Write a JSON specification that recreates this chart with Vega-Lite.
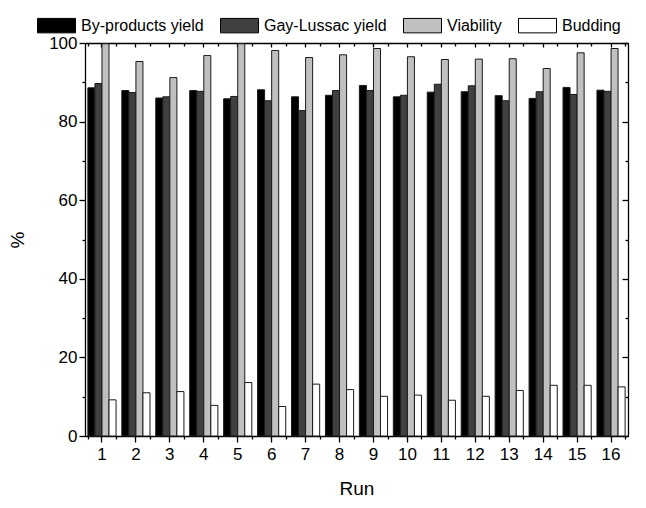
{
  "$schema": "https://vega.github.io/schema/vega-lite/v6.json",
  "width": 543,
  "height": 393,
  "autosize": {"type": "none"},
  "padding": {"left": 85, "top": 43, "right": 18, "bottom": 72},
  "config": {
    "view": {"stroke": null},
    "font": "Liberation Sans",
    "axis": {
      "grid": false,
      "domainColor": "#000",
      "domainWidth": 1.3,
      "tickColor": "#000",
      "tickWidth": 1.3,
      "labelColor": "#000",
      "titleColor": "#000",
      "labelFont": "Liberation Sans",
      "titleFont": "Liberation Sans",
      "labelFontSize": 17,
      "titleFontSize": 19,
      "titleFontWeight": "normal"
    }
  },
  "data": {
    "values": [
      {"run": 1, "By-products yield": 88.6, "Gay-Lussac yield": 89.7, "Viability": 99.8, "Budding": 9.2},
      {"run": 2, "By-products yield": 87.9, "Gay-Lussac yield": 87.4, "Viability": 95.3, "Budding": 11.0},
      {"run": 3, "By-products yield": 86.0, "Gay-Lussac yield": 86.3, "Viability": 91.2, "Budding": 11.3},
      {"run": 4, "By-products yield": 87.9, "Gay-Lussac yield": 87.7, "Viability": 96.8, "Budding": 7.8},
      {"run": 5, "By-products yield": 85.8, "Gay-Lussac yield": 86.4, "Viability": 99.8, "Budding": 13.6},
      {"run": 6, "By-products yield": 88.1, "Gay-Lussac yield": 85.3, "Viability": 98.1, "Budding": 7.5},
      {"run": 7, "By-products yield": 86.3, "Gay-Lussac yield": 82.8, "Viability": 96.3, "Budding": 13.2},
      {"run": 8, "By-products yield": 86.7, "Gay-Lussac yield": 87.9, "Viability": 97.0, "Budding": 11.8},
      {"run": 9, "By-products yield": 89.2, "Gay-Lussac yield": 87.9, "Viability": 98.6, "Budding": 10.1},
      {"run": 10, "By-products yield": 86.3, "Gay-Lussac yield": 86.7, "Viability": 96.5, "Budding": 10.4},
      {"run": 11, "By-products yield": 87.5, "Gay-Lussac yield": 89.5, "Viability": 95.8, "Budding": 9.1},
      {"run": 12, "By-products yield": 87.6, "Gay-Lussac yield": 89.1, "Viability": 95.9, "Budding": 10.1},
      {"run": 13, "By-products yield": 86.6, "Gay-Lussac yield": 85.3, "Viability": 96.0, "Budding": 11.6},
      {"run": 14, "By-products yield": 85.9, "Gay-Lussac yield": 87.6, "Viability": 93.5, "Budding": 12.9},
      {"run": 15, "By-products yield": 88.7, "Gay-Lussac yield": 86.9, "Viability": 97.5, "Budding": 12.9},
      {"run": 16, "By-products yield": 88.0, "Gay-Lussac yield": 87.7, "Viability": 98.6, "Budding": 12.5}
    ]
  },
  "transform": [
    {"fold": ["By-products yield", "Gay-Lussac yield", "Viability", "Budding"], "as": ["series", "value"]}
  ],
  "layer": [
    {
      "mark": {"type": "bar", "stroke": "#1a1a1a", "strokeWidth": 1},
      "encoding": {
        "x": {
          "field": "run", "type": "ordinal",
          "scale": {"paddingInner": 0.17, "paddingOuter": 0.085},
          "axis": {"orient": "bottom", "tickSize": 6, "labelAngle": 0, "labelPadding": 4, "title": "Run", "titlePadding": 17, "domain": true}
        },
        "xOffset": {
          "field": "series", "type": "nominal",
          "scale": {"domain": ["By-products yield", "Gay-Lussac yield", "Viability", "Budding"], "paddingInner": 0, "paddingOuter": 0}
        },
        "y": {
          "field": "value", "type": "quantitative",
          "scale": {"domain": [0, 100], "nice": false},
          "axis": {
            "orient": "left",
            "values": [0, 10, 20, 30, 40, 50, 60, 70, 80, 90, 100],
            "tickSize": {"condition": {"test": "datum.value % 20 === 0", "value": 6}, "value": 3},
            "labelExpr": "datum.value % 20 === 0 ? datum.label : ''",
            "labelPadding": 2,
            "title": "%",
            "titlePadding": 21
          }
        },
        "color": {
          "field": "series", "type": "nominal",
          "scale": {
            "domain": ["By-products yield", "Gay-Lussac yield", "Viability", "Budding"],
            "range": ["#000000", "#404040", "#c0c0c0", "#ffffff"]
          },
          "legend": {
            "orient": "none",
            "legendX": -48,
            "legendY": -37,
            "direction": "horizontal",
            "title": null,
            "symbolType": "M-1,-0.38H1V0.38H-1Z",
            "symbolSize": 1444,
            "symbolStrokeColor": "#000",
            "symbolStrokeWidth": 1,
            "symbolOpacity": 1,
            "labelFont": "Liberation Sans",
            "labelFontSize": 16,
            "labelColor": "#000",
            "labelOffset": 5,
            "columnPadding": 14
          }
        }
      }
    },
    {
      "mark": {"type": "bar", "opacity": 0},
      "encoding": {
        "x": {
          "field": "run", "type": "ordinal",
          "axis": {"orient": "bottom", "tickBand": "extent", "tickSize": 3, "labels": false, "domain": false, "title": null}
        },
        "xOffset": {"field": "series", "type": "nominal"},
        "y": {
          "field": "value", "type": "quantitative",
          "axis": {
            "orient": "right",
            "values": [0, 10, 20, 30, 40, 50, 60, 70, 80, 90, 100],
            "tickSize": {"condition": {"test": "datum.value % 20 === 0", "value": -6}, "value": -3},
            "labels": false,
            "title": null
          }
        }
      }
    },
    {
      "mark": {"type": "bar", "opacity": 0},
      "encoding": {
        "x": {
          "field": "run", "type": "ordinal",
          "axis": {"orient": "top", "tickSize": -4, "labels": false, "title": null}
        },
        "xOffset": {"field": "series", "type": "nominal"},
        "y": {"field": "value", "type": "quantitative", "axis": null}
      }
    },
    {
      "mark": {"type": "bar", "opacity": 0},
      "encoding": {
        "x": {
          "field": "run", "type": "ordinal",
          "axis": {"orient": "top", "tickBand": "extent", "tickSize": -3, "labels": false, "domain": false, "title": null}
        },
        "xOffset": {"field": "series", "type": "nominal"},
        "y": {"field": "value", "type": "quantitative", "axis": null}
      }
    }
  ],
  "resolve": {"axis": {"x": "independent", "y": "independent"}}
}
